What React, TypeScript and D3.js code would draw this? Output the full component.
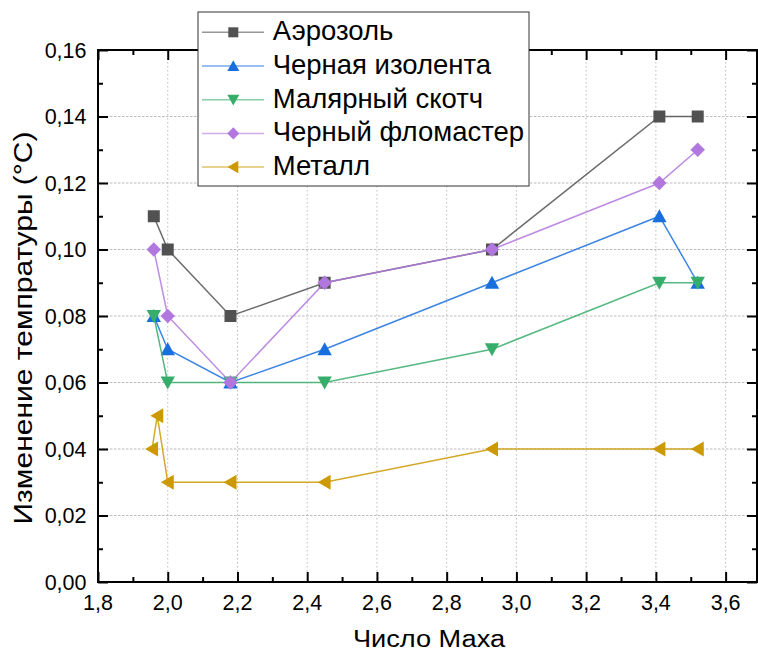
import React, { useEffect, useRef } from "react";
import * as d3 from "d3";

// Mach numbers for each measurement
const machAll = [1.96, 2.0, 2.18, 2.45, 2.93, 3.41, 3.52];
const machMetal = [1.955, 1.97, 2.0, 2.18, 2.45, 2.93, 3.41, 3.52];

const aerosol = [0.11, 0.1, 0.08, 0.09, 0.1, 0.14, 0.14];
const blackTape = [0.08, 0.07, 0.06, 0.07, 0.09, 0.11, 0.09];
const maskingTape = [0.08, 0.06, 0.06, 0.06, 0.07, 0.09, 0.09];
const blackMarker = [0.1, 0.08, 0.06, 0.09, 0.1, 0.12, 0.13];
const metal = [0.04, 0.05, 0.03, 0.03, 0.03, 0.04, 0.04, 0.04];

const seriesNames = ["Аэрозоль", "Черная изолента", "Малярный скотч", "Черный фломастер", "Металл"];
const seriesColors = ["#515151", "#1A6FDF", "#37AD6B", "#B177DE", "#CC9900"];
const seriesShapes = ["square", "up", "down", "diamond", "left"];

const xTicks = [1.8, 2.0, 2.2, 2.4, 2.6, 2.8, 3.0, 3.2, 3.4, 3.6];
const yTicks = [0, 0.02, 0.04, 0.06, 0.08, 0.1, 0.12, 0.14, 0.16];

const W = 758;
const H = 654;
const FONT = "'Liberation Sans', Arial, sans-serif";

// marker outline, s = nominal size in px
const markerPath = (shape: string, s: number) => {
    const h = s / 2;
    switch (shape) {
        case "square":
            return `M${-h},${-h}H${h}V${h}H${-h}Z`;
        case "up":
            return `M0,${-h * 1.15}L${h * 1.2},${h * 1.0}L${-h * 1.2},${h * 1.0}Z`;
        case "down":
            return `M0,${h * 1.15}L${h * 1.2},${-h * 1.0}L${-h * 1.2},${-h * 1.0}Z`;
        case "left":
            return `M${-h * 1.15},0L${h * 1.0},${-h * 1.25}L${h * 1.0},${h * 1.25}Z`;
        default:
            return `M0,${-h * 1.22}L${h * 1.2},0L0,${h * 1.22}L${-h * 1.2},0Z`;
    }
};

const App = () => {
    const ref = useRef<SVGSVGElement>(null);

    useEffect(() => {
        const svg = d3.select(ref.current);
        svg.selectAll("*").remove();

        const margin = { top: 50, right: 1, bottom: 72, left: 98 };
        const width = W - margin.left - margin.right;
        const height = H - margin.top - margin.bottom;

        const x = d3.scaleLinear().domain([1.8, 3.69]).range([0, width]);
        const y = d3.scaleLinear().domain([0, 0.16]).range([height, 0]);

        const g = svg.append("g").attr("transform", `translate(${margin.left},${margin.top})`);

        // grid
        g.selectAll(".gx")
            .data(xTicks.slice(1))
            .enter()
            .append("line")
            .attr("x1", d => x(d))
            .attr("x2", d => x(d))
            .attr("y1", 0)
            .attr("y2", height)
            .attr("stroke", "#bbb")
            .attr("stroke-width", 1)
            .attr("stroke-dasharray", "1.5,2.5");
        g.selectAll(".gy")
            .data(yTicks.slice(1))
            .enter()
            .append("line")
            .attr("x1", 0)
            .attr("x2", width)
            .attr("y1", d => y(d))
            .attr("y2", d => y(d))
            .attr("stroke", "#bbb")
            .attr("stroke-width", 1)
            .attr("stroke-dasharray", "2.5,1.5");

        // frame + inward ticks
        const minorX = d3.range(1.9, 3.69, 0.2);
        const minorY = d3.range(0.01, 0.16, 0.02);

        const axes = g.append("g");
        axes.append("g").call(d3.axisBottom(x).tickValues(xTicks).tickSize(-10).tickFormat(() => ""))
            .attr("transform", `translate(0,${height})`);
        axes.append("g").call(d3.axisBottom(x).tickValues(minorX).tickSize(-5).tickFormat(() => ""))
            .attr("transform", `translate(0,${height})`);
        axes.append("g").call(d3.axisTop(x).tickValues(xTicks).tickSize(-10).tickFormat(() => ""));
        axes.append("g").call(d3.axisTop(x).tickValues(minorX).tickSize(-5).tickFormat(() => ""));
        axes.append("g").call(d3.axisLeft(y).tickValues(yTicks).tickSize(-10).tickFormat(() => ""));
        axes.append("g").call(d3.axisLeft(y).tickValues(minorY).tickSize(-5).tickFormat(() => ""));
        axes.append("g").call(d3.axisRight(y).tickValues(yTicks).tickSize(-10).tickFormat(() => ""))
            .attr("transform", `translate(${width},0)`);
        axes.append("g").call(d3.axisRight(y).tickValues(minorY).tickSize(-5).tickFormat(() => ""))
            .attr("transform", `translate(${width},0)`);
        axes.selectAll(".domain").remove();
        axes.selectAll(".tick line").attr("stroke", "#000").attr("stroke-width", 2);

        g.append("rect")
            .attr("x", 0)
            .attr("y", 0)
            .attr("width", width)
            .attr("height", height)
            .attr("fill", "none")
            .attr("stroke", "#000")
            .attr("stroke-width", 2);

        // tick labels
        g.selectAll(".xl")
            .data(xTicks)
            .enter()
            .append("text")
            .attr("x", d => x(d))
            .attr("y", height + 28)
            .attr("text-anchor", "middle")
            .attr("font-family", FONT)
            .attr("font-size", 21.5)
            .text(d => d3.format(".1f")(d).replace(".", ","));
        g.selectAll(".yl")
            .data(yTicks)
            .enter()
            .append("text")
            .attr("x", -11.5)
            .attr("y", d => y(d) + 7.7)
            .attr("text-anchor", "end")
            .attr("font-family", FONT)
            .attr("font-size", 21.5)
            .text(d => d3.format(".2f")(d).replace(".", ","));

        // axis titles (Origin renders them wider than Arial, hence textLength)
        svg.append("text")
            .attr("x", 429)
            .attr("y", 647)
            .attr("text-anchor", "middle")
            .attr("font-family", FONT)
            .attr("font-size", 23)
            .attr("textLength", 152)
            .attr("lengthAdjust", "spacingAndGlyphs")
            .text("Число Маха");
        svg.append("text")
            .attr("transform", "translate(32,328) rotate(-90)")
            .attr("text-anchor", "middle")
            .attr("font-family", FONT)
            .attr("font-size", 25)
            .attr("textLength", 393)
            .attr("lengthAdjust", "spacingAndGlyphs")
            .text("Изменение темпратуры (°C)");

        // series
        const series = [
            { xs: machAll, ys: aerosol },
            { xs: machAll, ys: blackTape },
            { xs: machAll, ys: maskingTape },
            { xs: machAll, ys: blackMarker },
            { xs: machMetal, ys: metal },
        ];
        const line = d3.line<[number, number]>().x(d => x(d[0])).y(d => y(d[1]));

        series.forEach((s, i) => {
            const pts: [number, number][] = s.xs.map((v, j) => [v, s.ys[j]]);
            g.append("path")
                .attr("d", line(pts))
                .attr("fill", "none")
                .attr("stroke", seriesColors[i])
                .attr("stroke-opacity", 0.85)
                .attr("stroke-width", 1.5);
            g.selectAll(null)
                .data(pts)
                .enter()
                .append("path")
                .attr("transform", d => `translate(${x(d[0])},${y(d[1])})`)
                .attr("d", markerPath(seriesShapes[i], 12))
                .attr("fill", seriesColors[i]);
        });

        // legend
        const lg = svg.append("g").attr("transform", "translate(198,12)");
        lg.append("rect")
            .attr("width", 331)
            .attr("height", 174)
            .attr("fill", "#fff")
            .attr("stroke", "#333")
            .attr("stroke-width", 1);
        seriesNames.forEach((name, i) => {
            const cy = 20.3 + i * 33.7;
            lg.append("line")
                .attr("x1", 4)
                .attr("x2", 66)
                .attr("y1", cy)
                .attr("y2", cy)
                .attr("stroke", seriesColors[i])
                .attr("stroke-opacity", 0.6)
                .attr("stroke-width", 1.5);
            lg.append("path")
                .attr("transform", `translate(35.3,${cy})`)
                .attr("d", markerPath(seriesShapes[i], 10))
                .attr("fill", seriesColors[i]);
            lg.append("text")
                .attr("x", 74.7)
                .attr("y", cy + 8)
                .attr("font-family", FONT)
                .attr("font-size", 27.5)
                .text(name);
        });
    }, []);

    return (
        <div style={{ position: "absolute", left: 0, top: 0 }}>
            <svg ref={ref} width={W} height={H} style={{ display: "block", background: "#fff" }}></svg>
        </div>
    );
};

export default App;
